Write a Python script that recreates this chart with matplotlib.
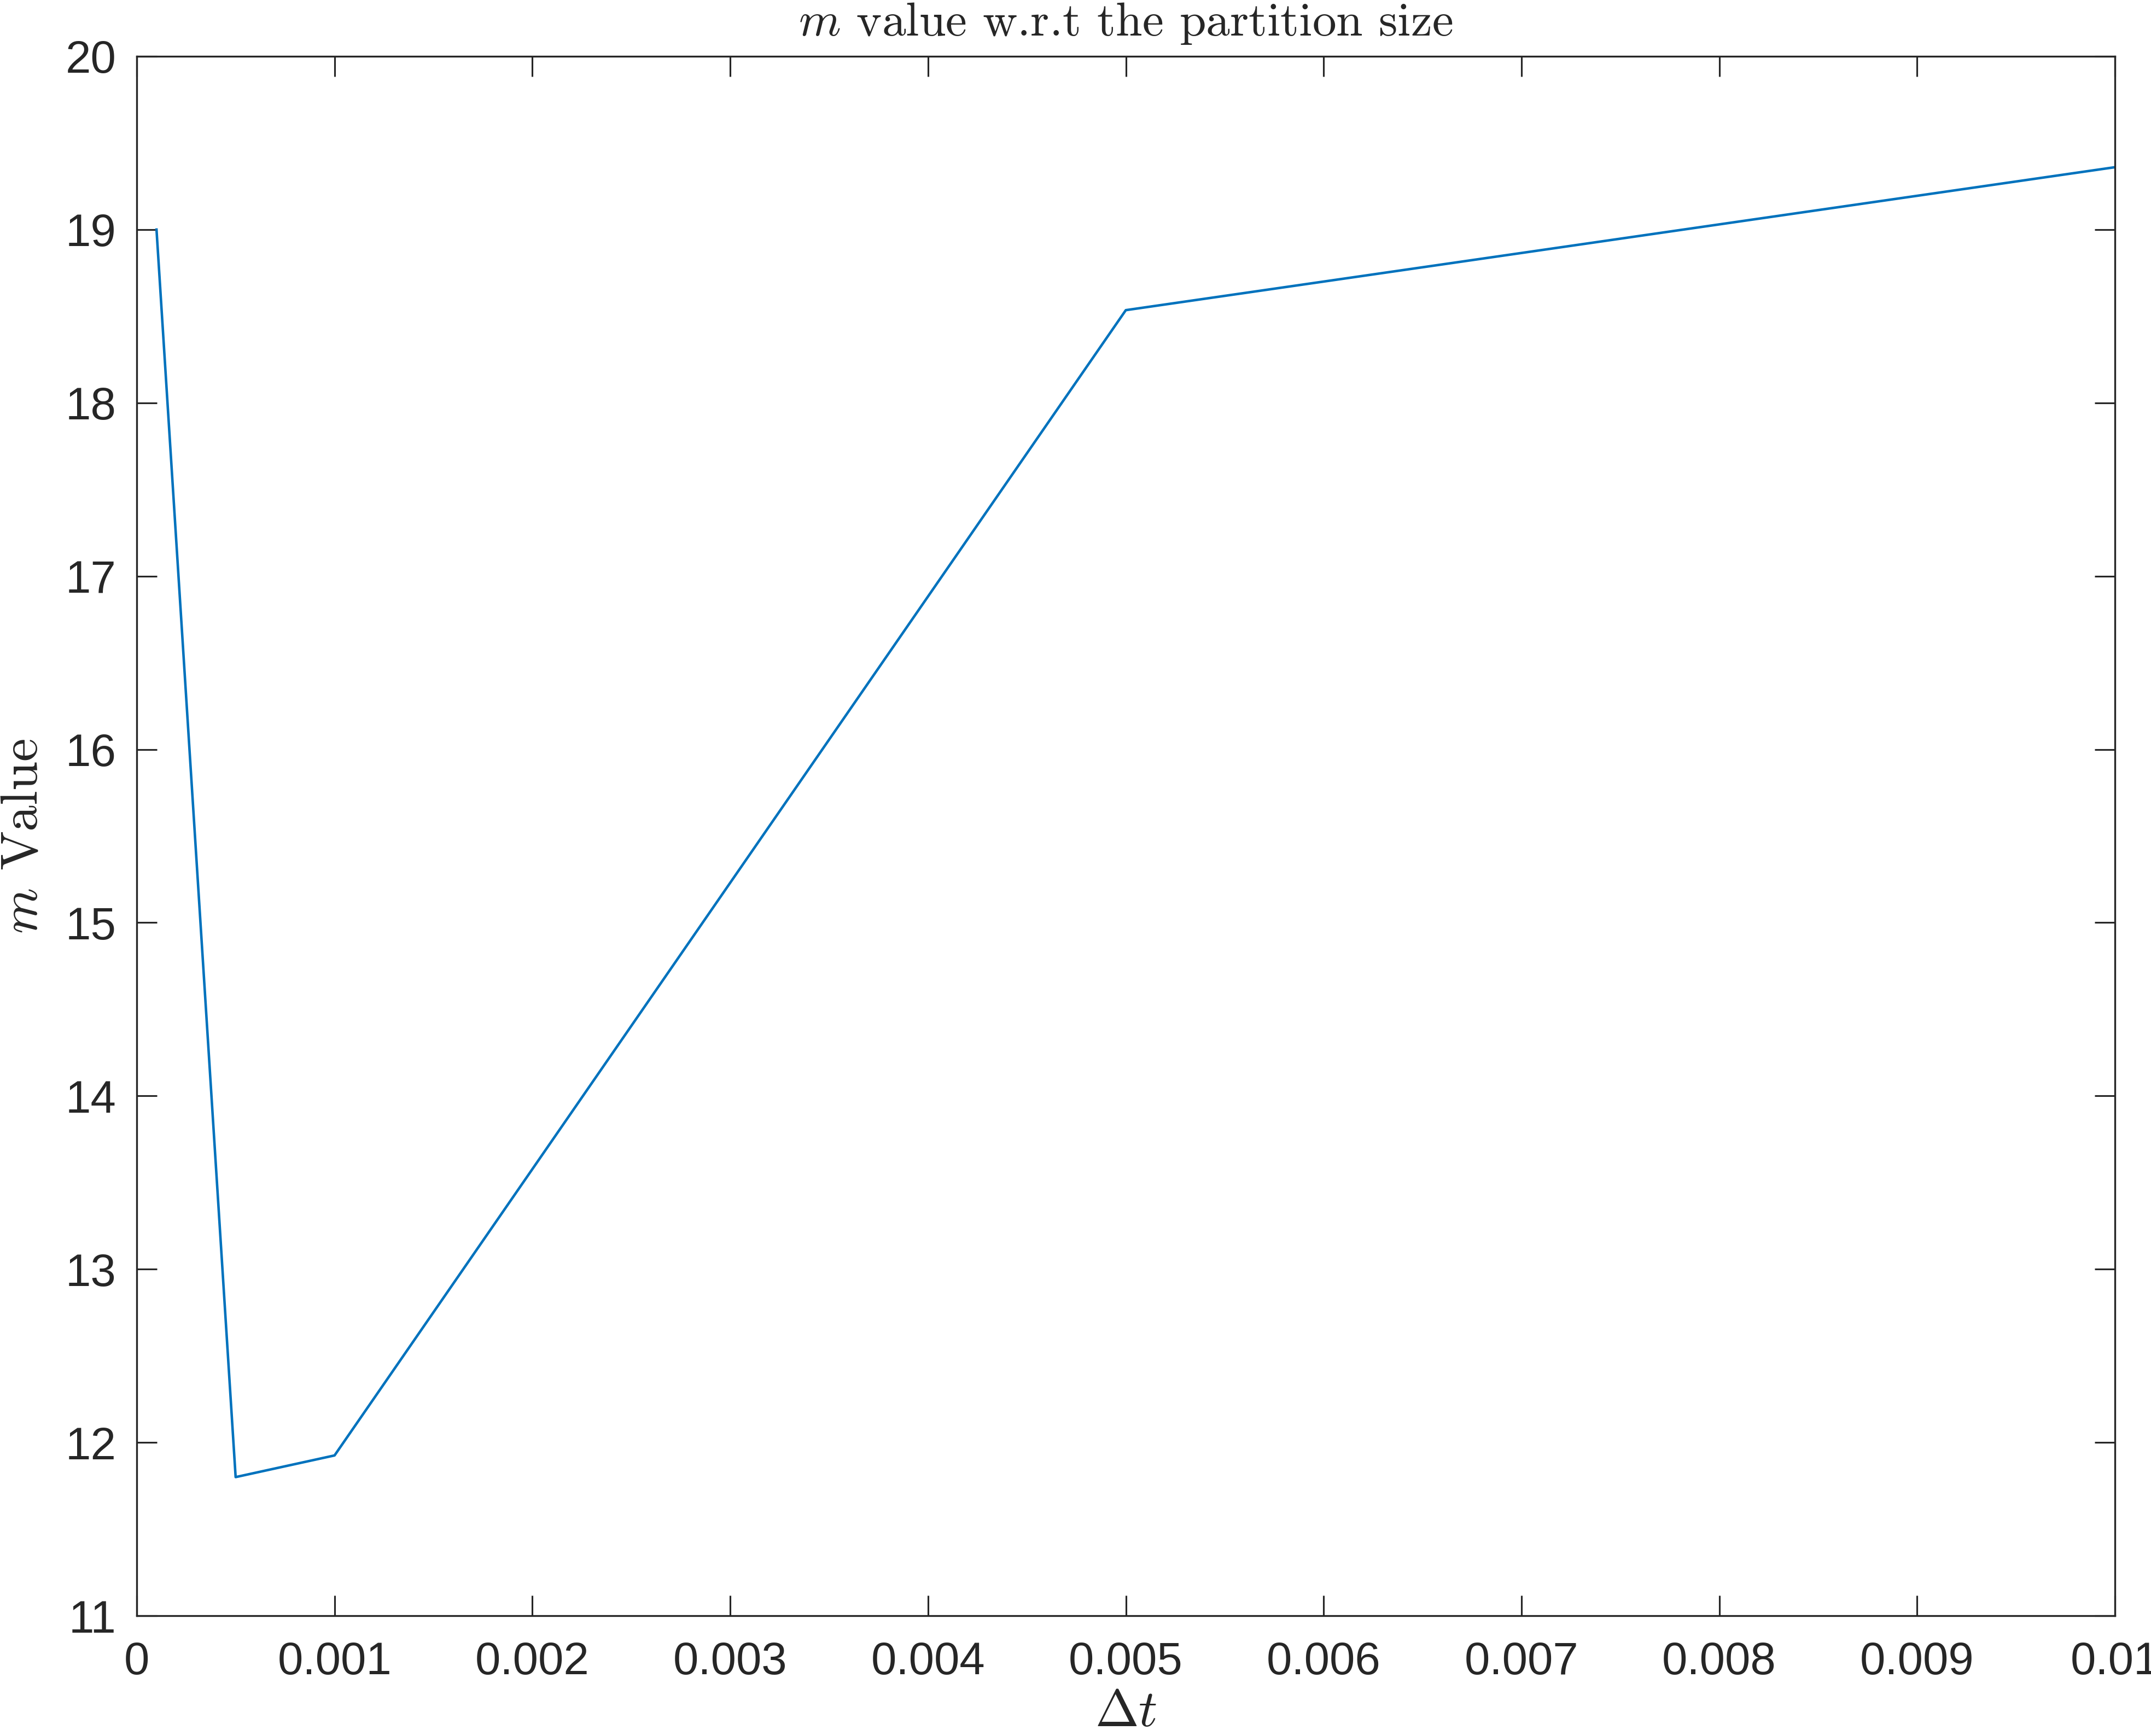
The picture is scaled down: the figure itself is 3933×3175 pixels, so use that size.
import matplotlib
matplotlib.use("Agg")
import matplotlib.pyplot as plt
import numpy as np

# partition sizes and the resulting m values
dt = [0.0001, 0.0005, 0.001, 0.005, 0.01]
m_value = [19.0, 11.80, 11.925, 18.535, 19.36]

x_ticks = [0, 0.001, 0.002, 0.003, 0.004, 0.005, 0.006, 0.007, 0.008, 0.009, 0.01]
x_tick_labels = ["0", "0.001", "0.002", "0.003", "0.004", "0.005",
                 "0.006", "0.007", "0.008", "0.009", "0.01"]
y_ticks = [11, 12, 13, 14, 15, 16, 17, 18, 19, 20]

plt.rcParams["font.family"] = ["Liberation Sans", "DejaVu Sans"]
plt.rcParams["mathtext.fontset"] = "cm"

axis_color = "#262626"

fig = plt.figure(figsize=(3933 / 300, 3175 / 300), dpi=300)
ax = fig.add_axes([250 / 3933, 1 - 2955 / 3175, 3617 / 3933, 2852 / 3175])

ax.plot(dt, m_value, color="#0072BD", linewidth=1.1)

ax.set_xlim(0, 0.01)
ax.set_ylim(11, 20)
ax.set_xticks(x_ticks)
ax.set_xticklabels(x_tick_labels)
ax.set_yticks(y_ticks)

ax.tick_params(direction="in", length=8.8, width=0.75, colors=axis_color,
               labelsize=20, top=True, right=True)
ax.tick_params(axis="x", pad=11)
ax.tick_params(axis="y", pad=9)
for s in ax.spines.values():
    s.set_color(axis_color)
    s.set_linewidth(0.8)

ax.set_xlabel(r"$\Delta t$", fontsize=23, color=axis_color, labelpad=2)
ax.set_ylabel(r"$m$ Value", fontsize=23, color=axis_color, labelpad=8,
              family=["cmr10", "DejaVu Serif"])
ax.set_title(r"$m$ value w.r.t the partition size", fontsize=21,
             color=axis_color, pad=9, family=["cmr10", "DejaVu Serif"])

fig.savefig("out.png", dpi=300)
